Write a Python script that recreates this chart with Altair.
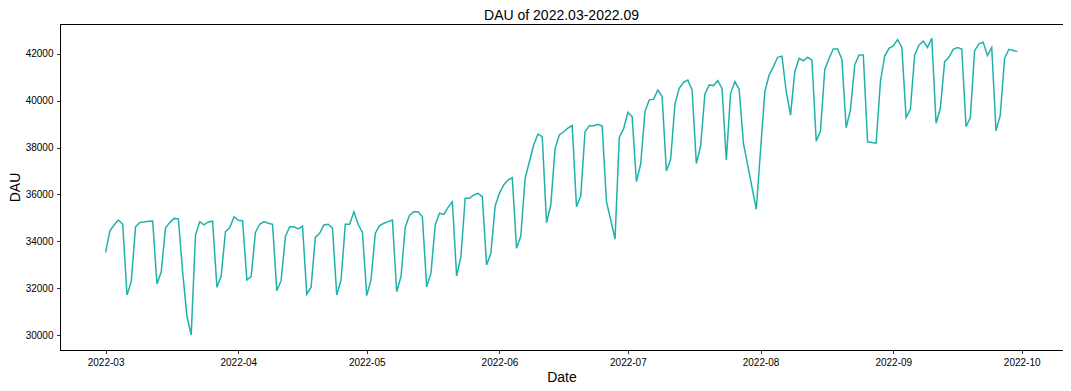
import altair as alt
import pandas as pd

mar_values = [33530, 34450, 34700, 34910, 34730, 31710, 32280, 34620, 34810, 34830,
              34860, 34870, 32180, 32700, 34580, 34800, 34980, 34960, 32700, 30800,
              30000, 34270, 34840, 34700, 34830, 34860, 32040, 32520, 34410, 34580, 35050]
apr_values = [34900, 34880, 32350, 32490, 34380, 34730, 34840, 34770, 34730, 31890,
              32320, 34200, 34620, 34620, 34530, 34650, 31740, 32040, 34170, 34340,
              34700, 34730, 34560, 31710, 32350, 34730, 34730, 35260, 34730, 34380]
may_values = [31680, 32350, 34340, 34670, 34770, 34840, 34910, 31850, 32490, 34600,
              35120, 35260, 35260, 35050, 32060, 32630, 34700, 35200, 35150, 35450,
              35690, 32520, 33340, 35840, 35840, 35980, 36050, 35910, 32990, 33490, 35510]
jun_values = [36050, 36410, 36620, 36720, 33700, 34230, 36690, 37400, 38110, 38580,
              38470, 34800, 35550, 37970, 38540, 38680, 38830, 38940, 35480, 35940,
              38680, 38940, 38940, 39000, 38920, 35690, 34910, 34090, 38440, 38800]
jul_values = [39510, 39320, 36550, 37300, 39540, 40040, 40060, 40460, 40180, 37000,
              37500, 39860, 40530, 40790, 40890, 40460, 37330, 38070, 40280, 40680,
              40650, 40860, 40530, 37470, 40320, 40820, 40490, 38180, 37250, 36300, 35370]
aug_values = [37900, 40390, 41100, 41460, 41860, 41910, 40390, 39390, 41240, 41810,
              41710, 41860, 41740, 38280, 38720, 41340, 41810, 42210, 42210, 41770,
              38850, 39610, 41530, 41960, 41960, 38250, 38220, 38190, 40820, 41910, 42240]
sep_values = [42340, 42610, 42280, 39290, 39640, 41960, 42380, 42550, 42280, 42670,
              39040, 39680, 41670, 41860, 42200, 42270, 42210, 38890, 39290, 42140,
              42430, 42500, 41930, 42280, 38720, 39390, 41810, 42200, 42150, 42100]

month_ticks = ["2022-03-01", "2022-04-01", "2022-05-01", "2022-06-01",
               "2022-07-01", "2022-08-01", "2022-09-01", "2022-10-01"]
y_ticks = [30000, 32000, 34000, 36000, 38000, 40000, 42000]

dau = mar_values + apr_values + may_values + jun_values + jul_values + aug_values + sep_values
dates = pd.date_range("2022-03-01", periods=len(dau), freq="D")
df = pd.DataFrame({"Date": dates.strftime("%Y-%m-%d"), "DAU": dau})


def ms(ts):
    return int(pd.Timestamp(ts).value // 10**6)


day_ms = 86400000
x_lo = ms("2022-03-01") - int(10.65 * day_ms)
x_hi = ms("2022-09-30") + int(10.65 * day_ms)

font = "Liberation Sans"

chart = alt.Chart(df).mark_line(color="#20B2AA", strokeWidth=1.5).encode(
    x=alt.X("Date:T",
            scale=alt.Scale(type="utc", domain=[x_lo, x_hi], nice=False),
            axis=alt.Axis(values=[ms(t) for t in month_ticks], format="%Y-%m",
                          title="Date", labelAngle=0)),
    y=alt.Y("DAU:Q",
            scale=alt.Scale(domain=[29360, 43280], nice=False, zero=False),
            axis=alt.Axis(values=y_ticks, format="d", title="DAU")),
).properties(
    width=1003,
    height=326,
    title=alt.TitleParams("DAU of 2022.03-2022.09", fontSize=14, font=font,
                          fontWeight="normal", color="black", offset=1),
    padding={"left": 52, "top": 16, "right": 0, "bottom": 33},
    autosize=alt.AutoSizeParams(type="none"),
).configure_view(
    stroke="black", strokeWidth=1
).configure_axis(
    grid=False,
    domainColor="black",
    domainWidth=1,
    tickColor="black",
    tickSize=3.5,
    tickWidth=0.8,
    labelFont=font,
    labelFontSize=10,
    labelColor="black",
    labelPadding=3.5,
    titleFont=font,
    titleFontSize=14,
    titleFontWeight="normal",
    titleColor="black",
).configure_axisX(
    titlePadding=3,
).configure_axisY(
    titlePadding=3,
)

chart.save("out.html", embed_options={"renderer": "svg", "actions": False})
